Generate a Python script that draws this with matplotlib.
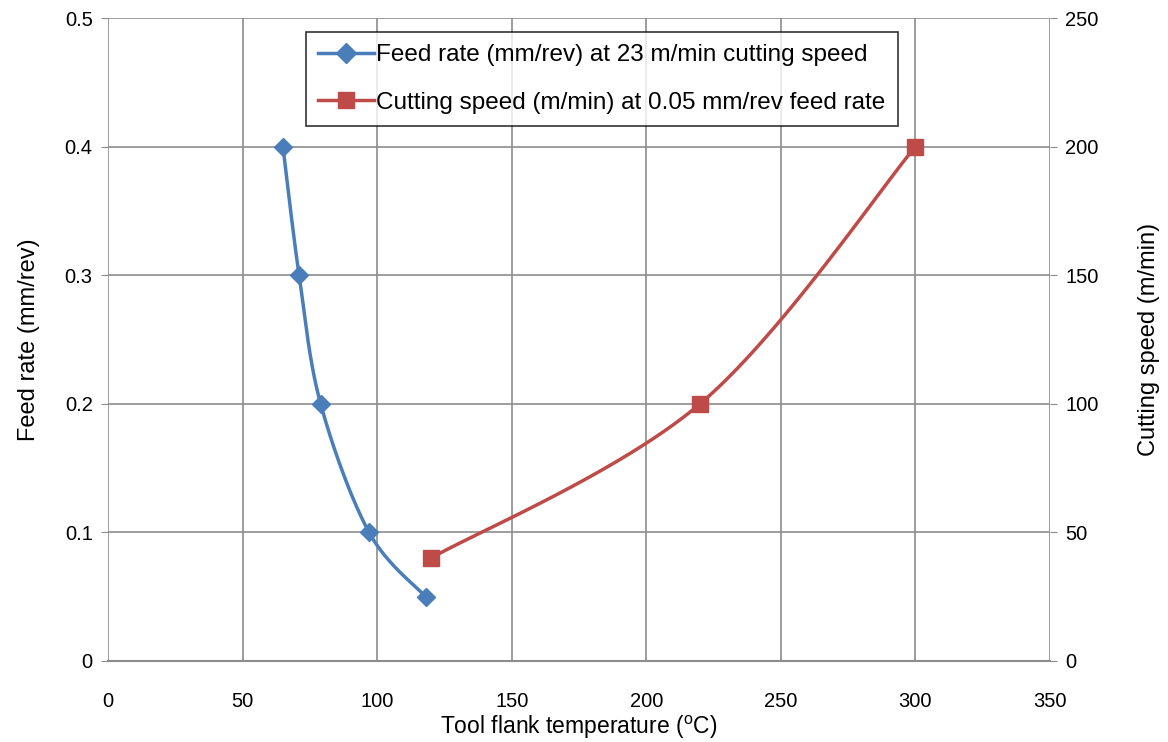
import numpy as np
import matplotlib
matplotlib.use('Agg')
import matplotlib.pyplot as plt

plt.rcParams['font.family'] = ['Liberation Sans', 'DejaVu Sans']

# data
feed_temp = [65, 71, 79, 97, 118]
feed_rate = [0.4, 0.3, 0.2, 0.1, 0.05]
speed_temp = [120, 220, 300]
cut_speed = [40, 100, 200]

BLUE = '#4A7EBB'
RED = '#BE4B48'
GRID = '#8C8C8C'

# axes size in pixels, used so the smoothing happens in screen space like Excel
W_PX, H_PX = 942.0, 643.0


def smooth(xs, ys, xmax, ymax, n=40):
    # Catmull-Rom through the points (only for drawing the smoothed line)
    p = np.column_stack([np.asarray(xs) / xmax * W_PX, np.asarray(ys) / ymax * H_PX])
    p = np.vstack([p[0], p, p[-1]])
    out = []
    t = np.linspace(0, 1, n)[:, None]
    for i in range(1, len(p) - 2):
        p0, p1, p2, p3 = p[i - 1], p[i], p[i + 1], p[i + 2]
        seg = 0.5 * ((2 * p1) + (-p0 + p2) * t + (2 * p0 - 5 * p1 + 4 * p2 - p3) * t ** 2
                     + (-p0 + 3 * p1 - 3 * p2 + p3) * t ** 3)
        out.append(seg)
    out = np.vstack(out)
    return out[:, 0] / W_PX * xmax, out[:, 1] / H_PX * ymax


fig = plt.figure(figsize=(11.68, 7.42), dpi=100)
ax = fig.add_axes([108 / 1168, 81 / 742, 942 / 1168, 643 / 742])
ax2 = ax.twinx()

ax.set_xlim(0, 350)
ax.set_ylim(0, 0.5)
ax2.set_ylim(0, 250)
ax.set_xticks(np.arange(0, 351, 50))
ax.set_yticks(np.arange(0, 0.51, 0.1))
ax.set_yticklabels(['0', '0.1', '0.2', '0.3', '0.4', '0.5'])
ax2.set_yticks(np.arange(0, 251, 50))

ax.grid(True, color=GRID, linewidth=1.2)
ax.set_axisbelow(True)
for a in (ax, ax2):
    for s in a.spines.values():
        s.set_visible(False)
ax.spines['bottom'].set_visible(True)
ax.spines['bottom'].set_color(GRID)
ax.spines['bottom'].set_linewidth(1.5)

ax.tick_params(axis='x', length=0, labelsize=14.5, pad=22)
ax.tick_params(axis='y', length=5, color=GRID, labelsize=14.5, pad=6)
ax2.tick_params(axis='y', length=5, color=GRID, labelsize=14.5, pad=6)

bx, by = smooth(feed_temp, feed_rate, 350, 0.5)
ax.plot(bx, by, color=BLUE, linewidth=2.5, zorder=3)
ax.plot(feed_temp, feed_rate, linestyle='none', marker='D', markersize=9,
        color=BLUE, zorder=4)

rx, ry = smooth(speed_temp, cut_speed, 350, 250)
ax2.plot(rx, ry, color=RED, linewidth=2.5, zorder=3)
ax2.plot(speed_temp, cut_speed, linestyle='none', marker='s', markersize=11,
         color=RED, zorder=4)

ax.set_xlabel('Tool flank temperature ($^{\\mathregular{o}}$C)', fontsize=16.5, labelpad=2)
ax.set_ylabel('Feed rate (mm/rev)', fontsize=17, labelpad=18)
ax2.set_ylabel('Cutting speed (m/min)', fontsize=17, labelpad=28)

h1 = plt.Line2D([], [], color=BLUE, linewidth=2.5, marker='D', markersize=10)
h2 = plt.Line2D([], [], color=RED, linewidth=2.5, marker='s', markersize=12)
leg = ax2.legend([h1, h2],
                 ['Feed rate (mm/rev) at 23 m/min cutting speed',
                  'Cutting speed (m/min) at 0.05 mm/rev feed rate'],
                 loc='upper left', bbox_to_anchor=(198 / 942, 1 - 14 / 643),
                 fontsize=17.5, frameon=True, fancybox=False, handlelength=2.3,
                 handletextpad=0.1, labelspacing=1.05, borderpad=0.5, borderaxespad=0)
leg.get_frame().set_edgecolor('black')
leg.get_frame().set_linewidth(1.2)

fig.savefig('out.png', dpi=100)
